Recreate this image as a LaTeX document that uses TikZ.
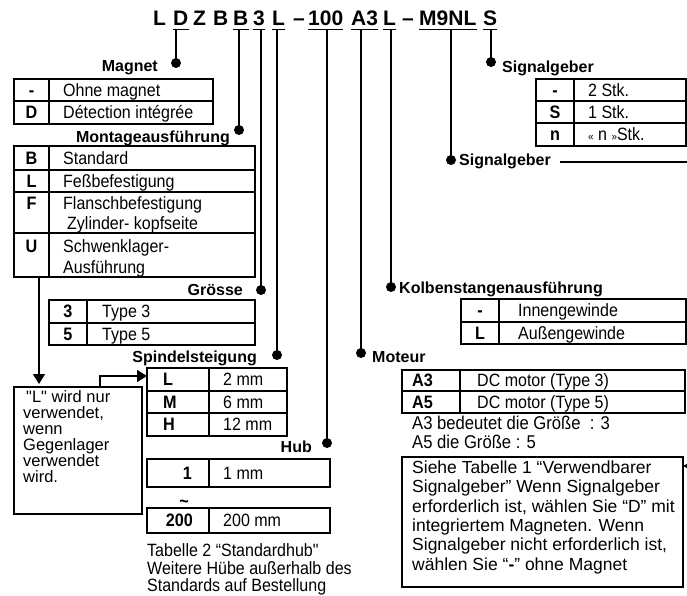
\documentclass[tikz,border=0pt]{standalone}
\usepackage{fontspec}
\setmainfont{Liberation Sans}
\newfontfamily\nf[FakeStretch=0.9]{Liberation Sans}
\usetikzlibrary{arrows.meta}
\newcommand\mktable[7]{%
  \node[tblbox, minimum width={#4-#2}, minimum height={#5-#3}] (#1) at (#2,#3) {};
  \draw[tline] (#6,#3) -- (#6,#5);
  \foreach \yy in {#7} {\draw[tline] (#2,\yy) -- (#4,\yy);}
}
\begin{document}
\begin{tikzpicture}[x=1pt,y=-1pt,
  txt/.style={font=\nf\fontsize{17.8}{21}\selectfont, inner sep=0pt, text height=12.7pt, text depth=0pt},
  val/.style={txt, anchor=west},
  n1/.style={val, font=\fontsize{16.5}{19}\selectfont, text height=11.8pt},
  n2/.style={val, font=\fontsize{17.5}{21}\selectfont, text height=12.5pt},
  keyc/.style={txt, font=\nf\fontsize{18}{21}\selectfont\bfseries, anchor=center},
  keyl/.style={txt, font=\nf\fontsize{18}{21}\selectfont\bfseries, anchor=west},
  lab/.style={font=\fontsize{16}{19}\selectfont\bfseries, inner sep=0pt, text height=11.5pt, text depth=0pt},
  code/.style={font=\fontsize{21}{25}\selectfont\bfseries, inner sep=0pt, text height=15pt, text depth=0pt, anchor=north west},
  tblbox/.style={draw, line width=1.8pt, inner sep=0pt, outer sep=0pt, anchor=north west},
  tline/.style={line width=1.8pt},
  dotn/.style={circle, fill=black, inner sep=0pt, minimum size=10pt},
  conn/.style={line width=1.5pt},
  thinconn/.style={line width=1.1pt},
  ul/.style={line width=1.8pt},
  notebox/.style={draw, line width=1.5pt, inner sep=0pt, outer sep=0pt, anchor=north west},
  arr/.style={line width=1.5pt, -{Triangle[length=10pt,width=12pt]}},
]
\useasboundingbox (0,0) rectangle (687,595);

% ---- code line
\node[code] (c1) at (153,10) {L};
\node[code] (c2) at (173,10) {D};
\node[code] (c3) at (193,10) {Z};
\node[code] (c4) at (213,10) {B};
\node[code] (c5) at (233,10) {B};
\node[code] (c6) at (253,10) {3};
\node[code] (c7) at (272,10) {L};
\node[code] (c8) at (293,10) {–};
\node[code] (c9) at (308,10) {100};
\node[code] (c10) at (351,10) {A3};
\node[code] (c11) at (383,10) {L};
\node[code] (c12) at (402,10) {–};
\node[code] (c13) at (419,10) {M9NL};
\node[code] (c14) at (483,10) {S};
\foreach \n in {c2,c5,c6,c7,c9,c10,c11,c13,c14} {
  \draw[ul] ([yshift=-4pt]\n.south west) -- ([yshift=-4pt]\n.south east);
  \path ([yshift=-4pt]\n.south) coordinate (u\n);
}

% ---- dots and connectors
\foreach \d/\c/\x/\y in {dD/c2/176/63, dB/c5/239/130, d3/c6/261/290, dL/c7/277/355,
    d100/c9/327/443, dA/c10/361/353, dK/c11/391/287, dM/c13/451/160, dS/c14/491/62} {
  \node[dotn] (\d) at (\x,\y) {};
  \draw[conn] (\d.center) -- (\d.center |- u\c);
}

% ---- labels
\node[lab, anchor=east] (lMag) at (158,66) {Magnet};
\node[lab, anchor=east] (lMon) at (230,137) {Montageausführung};
\node[lab, anchor=east] (lGr) at (243,290) {Grösse};
\node[lab, anchor=east] (lSp) at (257,357) {Spindelsteigung};
\node[lab, anchor=east] (lHub) at (312,447) {Hub};
\node[lab, anchor=west] (lMot) at (372,357) {Moteur};
\node[lab, anchor=west] (lKol) at (399,288) {Kolbenstangenausführung};
\node[lab, anchor=west] (lSig2) at (459,160) {Signalgeber};
\node[lab, anchor=west] (lSig1) at (502,67) {Signalgeber};

\coordinate (edgeR) at (687,162);
\path ([xshift=9pt]lSig2.east) coordinate (s2);
\draw[thinconn] (s2 |- edgeR) -- (edgeR);

% ---- tables
\mktable{mag}{14}{79}{213}{124}{49}{101}
\mktable{mon}{14}{146}{255}{277}{49}{170,192,233}
\mktable{gro}{49}{300}{255}{345}{87}{323}
\mktable{spi}{147}{368}{287}{436}{209}{391,413}
\mktable{hubA}{147}{459}{330}{487}{209}{459}
\mktable{hubB}{147}{508}{330}{533}{209}{508}
\mktable{sig}{536}{79}{686}{146}{574}{101,123}
\mktable{kol}{461}{299}{686}{344}{499}{322}
\mktable{mot}{402}{370}{685}{413}{460}{391}

% Magnet
\node[keyc] (mk1) at (31.5,90) {-};
\node[val] (mv1) at (63,90) {Ohne magnet};
\node[keyc] (mk2) at (31.5,112.5) {D};
\node[val] (mv2) at (63,112.5) {Détection intégrée};
% Montage
\node[keyc] (ok1) at (31.5,158) {B};
\node[val] (ov1) at (63,158) {Standard};
\node[keyc] (ok2) at (31.5,181) {L};
\node[val] (ov2) at (63,181) {Feßbefestigung};
\node[keyc] (ok3) at (31.5,203) {F};
\node[val] (ov3) at (63,203) {Flanschbefestigung};
\node[val] (ov3b) at (67,223) {Zylinder- kopfseite};
\node[keyc] (ok4) at (31.5,246) {U};
\node[val] (ov4) at (63,246) {Schwenklager-};
\node[val] (ov4b) at (63,267) {Ausführung};
% Groesse
\node[keyc] (gk1) at (68,311.5) {3};
\node[val] (gv1) at (102,311.5) {Type 3};
\node[keyc] (gk2) at (68,334) {5};
\node[val] (gv2) at (102,334) {Type 5};
% Spindel
\node[keyl] (sk1) at (163,379.5) {L};
\node[val] (sv1) at (223,379.5) {2 mm};
\node[keyl] (sk2) at (163,402) {M};
\node[val] (sv2) at (223,402) {6 mm};
\node[keyl] (sk3) at (163,424.5) {H};
\node[val] (sv3) at (223,424.5) {12 mm};
% Hub
\node[keyc, anchor=east] (hk1) at (192,473) {1};
\node[val] (hv1) at (223,473) {1 mm};
\node[keyc] (htilde) at (184,501) {\textasciitilde};
\node[keyc, anchor=east] (hk2) at (193,520.5) {200};
\node[val] (hv2) at (223,520.5) {200 mm};
\node[val] (hc1) at (147,550) {Tabelle 2 “Standardhub\textquotedbl};
\node[val] (hc2) at (147,568) {Weitere Hübe außerhalb des};
\node[val] (hc3) at (147,585) {Standards auf Bestellung};
% Signalgeber
\node[keyc] (gk1s) at (555,90) {-};
\node[val] (gv1s) at (588,90) {2 Stk.};
\node[keyc] (gk2s) at (555,112) {S};
\node[val] (gv2s) at (588,112) {1 Stk.};
\node[keyc] (gk3s) at (555,134.5) {n};
\node[val] (gv3s) at (588,134.5) {{\fontsize{11}{12}\selectfont«} n {\fontsize{11}{12}\selectfont»}Stk.};
% Kolben
\node[keyc] (kk1) at (480,310.5) {-};
\node[val] (kv1) at (518,310.5) {Innengewinde};
\node[keyc] (kk2) at (480,333) {L};
\node[val] (kv2) at (518,333) {Außengewinde};
% Moteur
\node[keyl] (tk1) at (412,380.5) {A3};
\node[val] (tv1) at (477,380.5) {DC motor (Type 3)};
\node[keyl] (tk2) at (412,402) {A5};
\node[val] (tv2) at (477,402) {DC motor (Type 5)};
\node[val, font=\nf\fontsize{18.5}{22}\selectfont] (tn1) at (412,423) {A3 bedeutet die Größe\enspace: 3};
\node[val, font=\nf\fontsize{18.5}{22}\selectfont] (tn2) at (412,442) {A5 die Größe : 5};

% ---- note boxes
\node[notebox, minimum width=128, minimum height=127] (note1) at (14,387) {};
\node[n1] (n1a) at (26,397) {\textquotedbl L\textquotedbl{} wird nur};
\node[n1] (n1b) at (23,413) {verwendet,};
\node[n1] (n1c) at (23,429) {wenn};
\node[n1] (n1d) at (23,445) {Gegenlager};
\node[n1] (n1e) at (23,461) {verwendet};
\node[n1] (n1f) at (23,477) {wird.};

\node[notebox, minimum width=281, minimum height=130] (note2) at (402,457) {};
\node[n2] (n2a) at (412,467) {Siehe Tabelle 1 “Verwendbarer};
\node[n2] (n2b) at (412,486.5) {Signalgeber” Wenn Signalgeber};
\node[n2] (n2c) at (412,506) {erforderlich ist, wählen Sie “D” mit};
\node[n2] (n2d) at (412,525) {integriertem Magneten. Wenn};
\node[n2] (n2e) at (412,544.5) {Signalgeber nicht erforderlich ist,};
\node[n2] (n2f) at (412,564) {wählen Sie “\textbf{-}” ohne Magnet};

% ---- arrows
\coordinate (xa) at (39,0);
\draw[arr, shorten >=3pt] (mon.south -| xa) -- (note1.north -| xa);
\coordinate (xb) at (100,0);
\coordinate (yb) at (0,376);
\draw[arr] (note1.north -| xb) |- (spi.west |- yb);
\coordinate (edgeR2) at (690,466);
\draw[line width=1pt, -{Triangle[length=4pt,width=4pt]}] (edgeR2) -- (note2.east |- edgeR2);
\end{tikzpicture}
\end{document}
